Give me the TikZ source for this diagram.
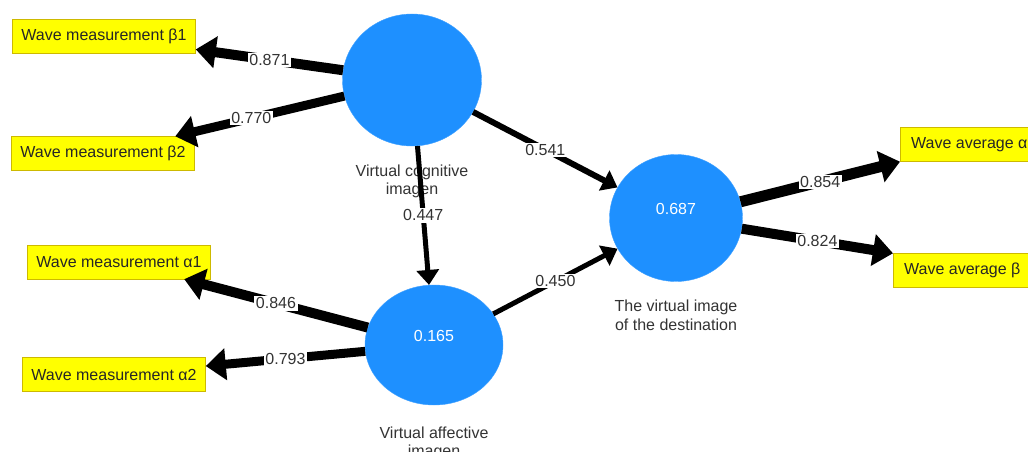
\documentclass[tikz,border=0pt]{standalone}
\usepackage{fontspec}
\setmainfont{Liberation Sans}
\usetikzlibrary{arrows.meta,shapes.geometric,positioning}
\definecolor{lvblue}{RGB}{30,144,255}
\definecolor{indyellow}{RGB}{255,255,0}
\definecolor{indborder}{RGB}{205,185,0}
\definecolor{txtgray}{RGB}{51,51,51}

\begin{document}
\begin{tikzpicture}[x=1pt, y=-1pt,
    latent/.style={ellipse, fill=lvblue, draw=lvblue!85, text=white, font=\fontsize{16}{18}\selectfont, text height=12pt, text depth=20pt},
    indicator/.style={rectangle, fill=indyellow, draw=indborder, text=black!85, font=\fontsize{16}{18}\selectfont, minimum height=34pt, inner xsep=9pt},
    caption/.style={text=txtgray, font=\fontsize{16}{18.5}\selectfont, align=center},
    coef/.style={fill=white, inner sep=1.5pt, text=txtgray, font=\fontsize{16}{18}\selectfont},
    outer/.style={line width=#1, -{Triangle[length=20pt,width=31pt]}},
    loadline/.style={line width=#1, -{Triangle[length=15pt,width=22pt]}}
]
\useasboundingbox (0,0) rectangle (1028,452);
\fill[white] (0,0) rectangle (1028,452);
\clip (0,0) rectangle (1028,452);

% latent variables
\node[latent, minimum width=139pt, minimum height=132pt] (cog) at (412,80) {};
\node[latent, minimum width=138pt, minimum height=120pt] (aff) at (434,345) {0.165};
\node[latent, minimum width=133pt, minimum height=127pt] (dest) at (676,218) {0.687};

\node[caption, below=15pt of cog] (cogcap) {Virtual cognitive\\imagen};
\node[caption, below=18pt of aff] (affcap) {Virtual affective\\imagen};
\node[caption, below=15pt of dest] (destcap) {The virtual image\\of the destination};

% indicators
\node[indicator] (b1) at (104,36.5) {Wave measurement β1};
\node[indicator] (b2) at (103,153.5) {Wave measurement β2};
\node[indicator] (a1) at (119,262) {Wave measurement α1};
\node[indicator] (a2) at (114,374.5) {Wave measurement α2};
\node[indicator, anchor=west, inner xsep=11pt] (wa) at (900,144.5) {Wave average α};
\node[indicator, anchor=west, inner xsep=11pt] (wb) at (893,270.5) {Wave average β};

% loadings and paths
\draw[outer=10pt] (cog) -- node[coef] {0.871} (b1);
\draw[outer=9pt] (cog) -- node[coef, pos=0.55] {0.770} (b2);
\draw[loadline=5pt] (cog) -- node[coef] {0.447} (aff);
\draw[loadline=6pt] (cog) -- node[coef] {0.541} (dest);
\draw[loadline=5pt] (aff) -- node[coef] {0.450} (dest);
\draw[outer=10pt] (aff) -- node[coef] {0.846} (a1);
\draw[outer=9pt] (aff) -- node[coef] {0.793} (a2);
\draw[outer=11pt] (dest) -- node[coef] {0.854} (wa.south west);
\draw[outer=10pt] (dest) -- node[coef] {0.824} (wb.north west);
\end{tikzpicture}
\end{document}
